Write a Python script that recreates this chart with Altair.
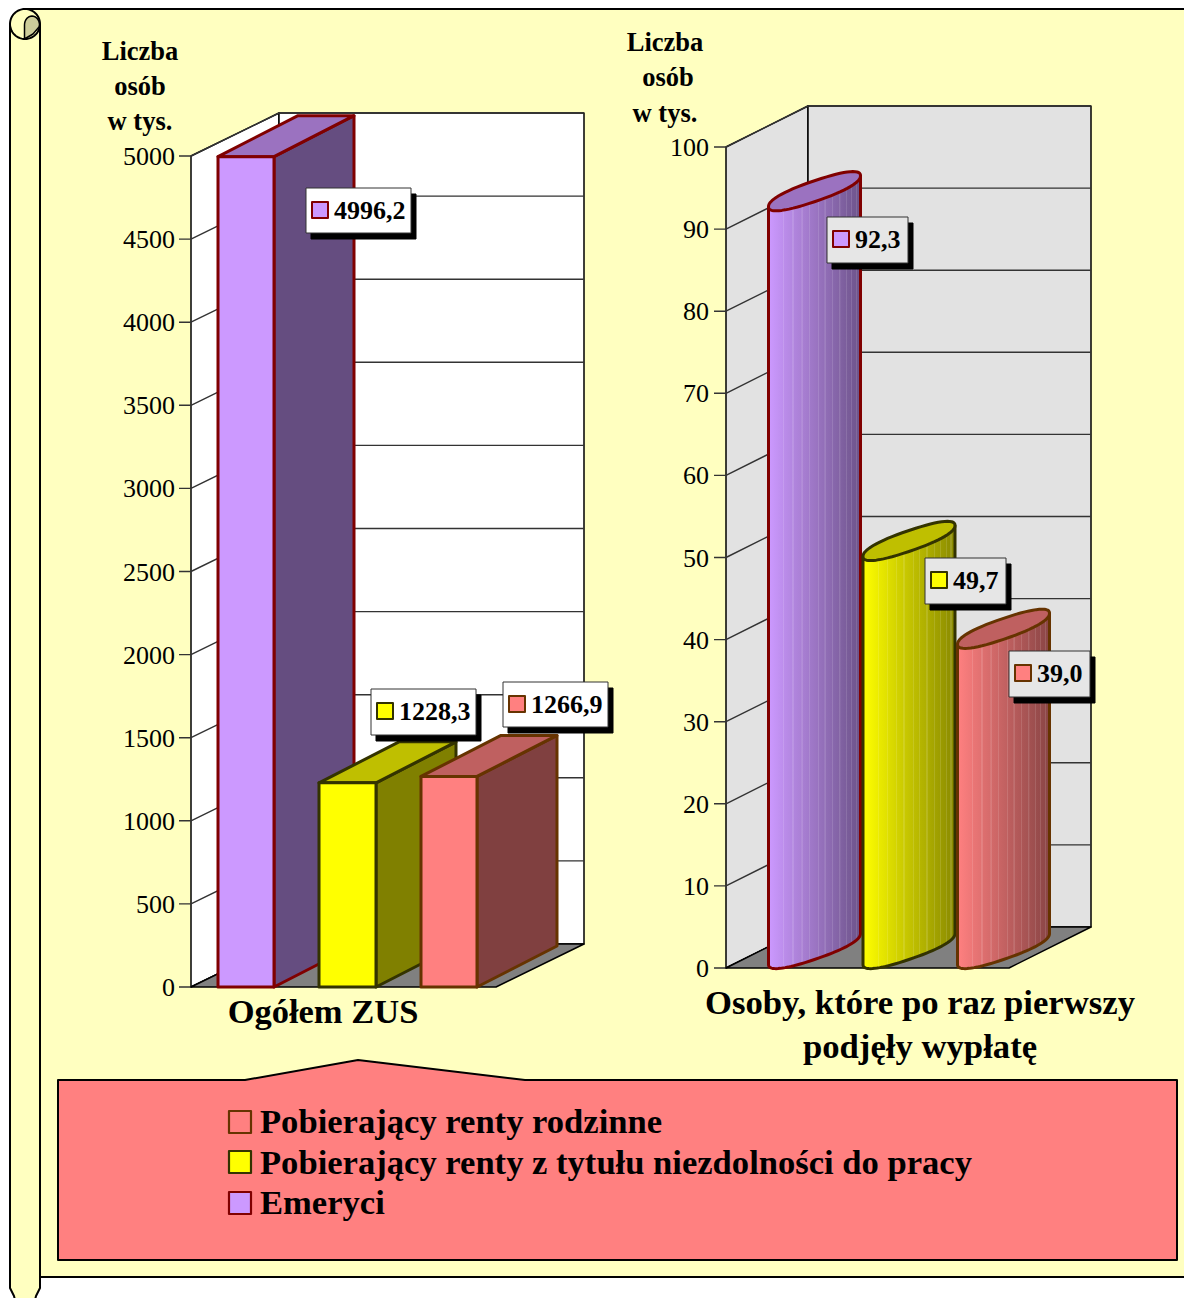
import math
import altair as alt
import pandas as pd

# ---------- values ----------
series = ["Emeryci", "Pobierający renty z tytułu niezdolności do pracy", "Pobierający renty rodzinne"]
left_values = [4996.2, 1228.3, 1266.9]
right_values = [92.3, 49.7, 39.0]
left_ticks = [0, 500, 1000, 1500, 2000, 2500, 3000, 3500, 4000, 4500, 5000]
right_ticks = [0, 10, 20, 30, 40, 50, 60, 70, 80, 90, 100]
left_title = "Ogółem ZUS"
right_title = ["Osoby, które po raz pierwszy", "podjęły wypłatę"]
axis_title = ["Liczba", "osób", "w tys."]

FRONT = ["#CC99FF", "#FFFF00", "#FF8080"]
TOP = ["#9B72C0", "#BFBF00", "#BF6060"]
SIDE = ["#654D80", "#808000", "#804040"]
EDGE = ["#800000", "#333300", "#663300"]
PAPER = "#FFFFC0"
SERIF = "Liberation Serif"

# scales: X and PX are page pixels, YL / YR carry the data values
X = alt.Scale(domain=[8, 1184], range=[0, 1176], nice=False, zero=False)
PX = alt.Scale(domain=[8, 1298], range=[0, 1290], nice=False, zero=False)
YL = alt.Scale(domain=[0, 5000], range=[979, 148], nice=False, zero=False)
YR = alt.Scale(domain=[0, 100], range=[960, 139], nice=False, zero=False)
L_PER_PX = 5000 / 831
R_PER_PX = 100 / 821

layers = []


def enc(yscale):
    return dict(
        x=alt.X("x:Q", scale=X, axis=None),
        y=alt.Y("y:Q", scale=yscale, axis=None),
    )


def poly(points, yscale=PX, fill=None, stroke="#000000", sw=1.5, closed=True):
    df = pd.DataFrame({"x": [p[0] for p in points], "y": [p[1] for p in points],
                       "i": list(range(len(points)))})
    kw = dict(stroke=stroke, strokeWidth=sw, strokeJoin="round")
    kw["interpolate"] = "linear-closed" if closed else "linear"
    if fill is not None:
        kw["fill"] = fill
    layers.append(alt.Chart(df).mark_line(**kw).encode(order=alt.Order("i:Q"), **enc(yscale)))


def text(items, size, bold=False, align="left", yscale=PX, baseline="alphabetic", dy=0):
    df = pd.DataFrame(items, columns=["x", "y", "t"])
    layers.append(
        alt.Chart(df)
        .mark_text(font=SERIF, fontSize=size, fontWeight="bold" if bold else "normal",
                   align=align, baseline=baseline, color="#000000", dy=dy)
        .encode(text="t:N", **enc(yscale))
    )


def rect(x0, y0, x1, y1, fill, stroke="#000000", sw=1.5):
    poly([(x0, y0), (x1, y0), (x1, y1), (x0, y1)], PX, fill, stroke, sw)


def arc(cx, cy, ux, uy, vx, vy, t0, t1, n=28, p=1.0):
    out = []
    for k in range(n + 1):
        t = t0 + (t1 - t0) * k / n
        c = math.copysign(abs(math.cos(t)) ** p, math.cos(t))
        s = math.copysign(abs(math.sin(t)) ** p, math.sin(t))
        out.append((cx + ux * c + vx * s, cy + uy * c + vy * s))
    return out


# ---------- scroll ----------
poly([(25, 9), (1197, 9), (1197, 1274), (1188, 1277), (40, 1277), (40, 25)], PX, PAPER, "#000000", 2)
roll = arc(25, 24, 15, 0, 0, -15, math.pi, 0) + [(40, 1288), (36, 1296), (34, 1304), (16, 1304), (14, 1296), (10, 1288)]
poly(roll, PX, PAPER, "#000000", 2)
poly(arc(25, 24, 15, 0, 0, 15, math.pi, 0), PX, None, "#000000", 2, closed=False)
leaf = [(24.5, 39), (24.5, 25)] + arc(32, 25, -7.5, 0, 0, -9, 0, math.pi, 16) + [(39, 27), (33, 34)]
poly(leaf, PX, "#CDCD9A", "#000000", 1.5)

# ---------- left panel ----------
ld = 43 * L_PER_PX
poly([(191, 0), (279, ld), (279, 5000 + ld), (191, 5000)], YL, "#FFFFFF", "#000000", 1.5)
poly([(279, ld), (584, ld), (584, 5000 + ld), (279, 5000 + ld)], YL, "#FFFFFF", "#000000", 1.5)
for v in left_ticks:
    poly([(179, v), (191, v), (279, v + ld), (584, v + ld)], YL, None, "#333333", 1.4, closed=False)
poly([(191, 0), (496, 0), (584, ld), (279, ld)], YL, "#808080", "#000000", 1.5)

bar_x = [(218, 274), (319, 376), (421, 477)]
bx, by = 80, 41 * L_PER_PX
for (x0, x1), v, f, t, s, e in zip(bar_x, left_values, FRONT, TOP, SIDE, EDGE):
    poly([(x1, 0), (x1 + bx, by), (x1 + bx, v + by), (x1, v)], YL, s, e, 3)
    poly([(x0, v), (x1, v), (x1 + bx, v + by), (x0 + bx, v + by)], YL, t, e, 3)
    poly([(x0, 0), (x1, 0), (x1, v), (x0, v)], YL, f, e, 3)

text([(175, v, str(v)) for v in left_ticks], 26, False, "right", YL, "middle", dy=1)
text([(140, b, s) for b, s in zip([60, 95, 130], axis_title)], 26.5, True, "center")
text([(323, 1023, left_title)], 34.5, True, "center")

# ---------- right panel ----------
rd = 41 * R_PER_PX
poly([(726, 0), (808, rd), (808, 100 + rd), (726, 100)], YR, "#E2E2E2", "#000000", 1.5)
poly([(808, rd), (1091, rd), (1091, 100 + rd), (808, 100 + rd)], YR, "#E2E2E2", "#000000", 1.5)
for v in right_ticks:
    poly([(714, v), (726, v), (808, v + rd), (1091, v + rd)], YR, None, "#333333", 1.4, closed=False)
poly([(726, 0), (1009, 0), (1091, rd), (808, rd)], YR, "#808080", "#000000", 1.5)


def mix(c0, c1, f):
    a = [int(c0[i:i + 2], 16) for i in (1, 3, 5)]
    b = [int(c1[i:i + 2], 16) for i in (1, 3, 5)]
    return "#%02x%02x%02x" % tuple(round(p + (q - p) * f) for p, q in zip(a, b))


STRIPES = [0.17, 0.27, 0.37, 0.45, 0.55, 0.62, 0.70, 0.78, 0.85, 0.91, 0.96]


def shade(c0, c1):
    stops = [dict(offset=0, color=c0)]
    for f in STRIPES:
        base0 = mix(c0, c1, f - 0.012)
        base1 = mix(c0, c1, f + 0.012)
        stops += [dict(offset=f - 0.012, color=base0),
                  dict(offset=f - 0.011, color=mix(base0, "#FFFFFF", 0.12)),
                  dict(offset=f + 0.002, color=mix(base1, "#FFFFFF", 0.12)),
                  dict(offset=f + 0.003, color=base1)]
    stops.append(dict(offset=1, color=c1))
    return dict(gradient="linear", x1=0, x2=1, y1=0, y2=0, stops=stops)


cyl_cx = [814.5, 909, 1003.5]
half_w, slant, bulge = 46, 15.5 * R_PER_PX, 10.5 * R_PER_PX
mid = 19 * R_PER_PX
ROUND = 0.85
for cx, v, f, t, s, e in zip(cyl_cx, right_values, FRONT, TOP, SIDE, EDGE):
    high = v + mid
    lower = arc(cx, mid, half_w, slant, 0, bulge, math.pi, 2 * math.pi, 40, ROUND)
    body = [(cx + half_w, high + slant), (cx - half_w, high - slant)] + lower
    poly(body, YR, shade(f, mix(s, f, 0.08)), e, 3)
    poly(arc(cx, high, half_w, slant, 0, bulge, 0, 2 * math.pi, 60, ROUND), YR, t, e, 3)

text([(709, v, str(v)) for v in right_ticks], 26, False, "right", YR, "middle", dy=1)
text([(x, b, s) for x, b, s in zip([665, 668, 665], [51, 86, 122], axis_title)], 26.5, True, "center")
text([(920, b, s) for b, s in zip([1014, 1058], right_title)], 34.7, True, "center")

# ---------- value labels ----------
boxes = [
    (306, 188, 411, 233, "#FFFFFF", 0, left_values),
    (371, 689, 476, 735, "#FFFFFF", 1, left_values),
    (503, 682, 608, 727, "#FFFFFF", 2, left_values),
    (827, 217, 908, 263, "#E6E6E6", 0, right_values),
    (925, 558, 1006, 604, "#E6E6E6", 1, right_values),
    (1009, 651, 1090, 697, "#E6E6E6", 2, right_values),
]
for x0, y0, x1, y1, bg, idx, vals in boxes:
    rect(x0 + 5, y0 + 6, x1 + 5, y1 + 6, "#000000", "#000000", 1)
    rect(x0, y0, x1, y1, bg, "#333333", 1)
    rect(x0 + 6, y0 + 14, x0 + 22, y0 + 30, FRONT[idx], EDGE[idx], 2)
    label = f"{vals[idx]:.1f}".replace(".", ",")
    text([(x0 + 28, y0 + 31, label)], 26, True)

# ---------- legend ----------
poly([(58, 1080), (245, 1080), (358, 1060), (525, 1080), (1177, 1080), (1177, 1260), (58, 1260)],
     PX, "#FF8080", "#000000", 2)
legend_rows = [(1133, 1133, 2), (1173, 1174, 1), (1214, 1214, 0)]
for base, tbase, idx in legend_rows:
    rect(229, base - 22, 251, base, FRONT[idx], EDGE[idx], 2.2)
    text([(260, tbase, series[idx])], 34.6, True)

chart = (
    alt.layer(*layers)
    .resolve_scale(y="independent")
    .properties(width=1176, height=1290, padding=0,
                autosize=alt.AutoSizeParams(type="none"), background="#FFFFFF")
    .configure_view(strokeWidth=0)
)
chart.save("out.html", embed_options={"renderer": "svg", "actions": False})
